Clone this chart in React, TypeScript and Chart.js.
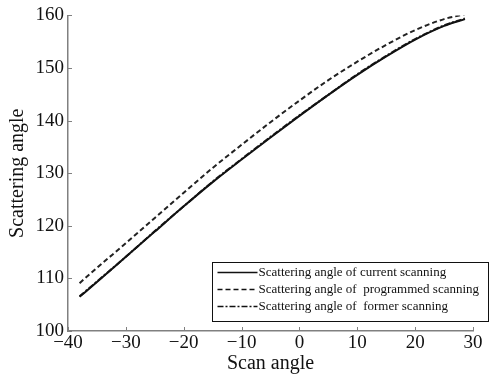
import React, { useEffect, useRef } from "react";
import { Chart, registerables } from "chart.js";

Chart.register(...registerables);

const scanAngles = [-38, -35, -30, -25, -20, -15, -10, -5, 0, 5, 10, 15, 20, 25, 28.6];
const currentScanning = [106.5, 109.3, 114.1, 118.9, 123.7, 128.3, 132.6, 136.8, 140.9, 144.9, 148.7, 152.2, 155.4, 158.0, 159.3];
const programmedScanning = [109.1, 112.0, 116.7, 121.5, 126.3, 131.0, 135.4, 139.7, 143.8, 147.7, 151.2, 154.4, 157.2, 159.3, 160.2];
const formerScanning = [106.6, 109.4, 114.1, 119.0, 123.7, 128.4, 132.7, 136.9, 141.0, 144.9, 148.8, 152.3, 155.5, 158.1, 159.4];
const xTickValues = [-40, -30, -20, -10, 0, 10, 20, 30];
const yTickValues = [100, 110, 120, 130, 140, 150, 160];

const seriesLabels = [
  "Scattering angle of current scanning",
  "Scattering angle of  programmed scanning",
  "Scattering angle of  former scanning",
];

const FONT = "'Liberation Serif', 'Times New Roman', serif";

const toPoints = (ys: number[]) => scanAngles.map((x, i) => ({ x, y: ys[i] }));

const innerTicksAndLegend = {
  id: "innerTicksAndLegend",
  afterDraw(chart: any) {
    const { ctx, chartArea, scales } = chart;
    ctx.save();
    ctx.strokeStyle = "#808080";
    ctx.lineWidth = 1;
    xTickValues.forEach((v) => {
      const px = Math.round(scales.x.getPixelForValue(v)) + 0.5;
      ctx.beginPath();
      ctx.moveTo(px, chartArea.bottom);
      ctx.lineTo(px, chartArea.bottom - 4);
      ctx.stroke();
    });
    yTickValues.forEach((v) => {
      const py = Math.round(scales.y.getPixelForValue(v)) + 0.5;
      ctx.beginPath();
      ctx.moveTo(chartArea.left, py);
      ctx.lineTo(chartArea.left + 4, py);
      ctx.stroke();
    });

    // legend box
    const bx = chartArea.left + 144.5;
    const by = chartArea.bottom - 68.5;
    const bw = 276;
    const bh = 59;
    ctx.fillStyle = "#ffffff";
    ctx.fillRect(bx, by, bw, bh);
    ctx.strokeStyle = "#111";
    ctx.lineWidth = 1;
    ctx.strokeRect(bx, by, bw, bh);
    ctx.font = `13px ${FONT}`;
    ctx.textBaseline = "middle";
    ctx.textAlign = "left";
    const datasets = chart.data.datasets;
    [0, 1, 2].forEach((i) => {
      const ds = datasets[i];
      const y = by + 10 + i * 17;
      ctx.strokeStyle = "#111";
      ctx.lineWidth = 1.6;
      ctx.setLineDash(ds.borderDash || []);
      ctx.beginPath();
      ctx.moveTo(bx + 5, y);
      ctx.lineTo(bx + 45, y);
      ctx.stroke();
      ctx.setLineDash([]);
      ctx.fillStyle = "#111";
      ctx.fillText(ds.label, bx + 46, y);
    });
    ctx.restore();
  },
};

const minusFmt = (v: any) => String(v).replace("-", "\u2212");

export default function App() {
  const canvasRef = useRef<HTMLCanvasElement | null>(null);

  useEffect(() => {
    document.body.style.margin = "0";
    const canvas = canvasRef.current;
    if (!canvas) return;
    const chart = new Chart(canvas, {
      type: "line",
      data: {
        datasets: [
          {
            label: seriesLabels[0],
            data: toPoints(currentScanning),
            borderColor: "#111",
            borderWidth: 2,
            pointRadius: 0,
            cubicInterpolationMode: "monotone",
            fill: false,
          },
          {
            label: seriesLabels[1],
            data: toPoints(programmedScanning),
            borderColor: "#222",
            borderWidth: 2,
            borderDash: [5, 3],
            pointRadius: 0,
            cubicInterpolationMode: "monotone",
            fill: false,
          },
          {
            label: seriesLabels[2],
            data: toPoints(formerScanning),
            borderColor: "#222",
            borderWidth: 2,
            borderDash: [6, 2, 2, 2],
            pointRadius: 0,
            cubicInterpolationMode: "monotone",
            fill: false,
          },
        ],
      },
      options: {
        animation: false,
        responsive: true,
        maintainAspectRatio: false,
        layout: { padding: { left: 0, right: 17, top: 15, bottom: 0 } },
        plugins: {
          legend: { display: false },
          tooltip: { enabled: false },
        },
        scales: {
          x: {
            type: "linear",
            min: -40,
            max: 30,
            afterFit: (s: any) => {
              s.height = 45;
            },
            afterBuildTicks: (s: any) => {
              s.ticks = xTickValues.map((v) => ({ value: v }));
            },
            grid: { display: false, drawTicks: false, tickLength: 0 },
            border: { display: true, color: "#808080", width: 1.5 },
            ticks: {
              color: "#111",
              font: { family: FONT, size: 19 },
              padding: 1,
              maxRotation: 0,
              callback: minusFmt,
            },
            title: {
              display: true,
              text: "Scan angle",
              color: "#111",
              font: { family: FONT, size: 20 },
              padding: { top: 0, bottom: 0 },
            },
          },
          y: {
            type: "linear",
            min: 100,
            max: 160,
            afterFit: (s: any) => {
              s.width = 68;
            },
            afterBuildTicks: (s: any) => {
              s.ticks = yTickValues.map((v) => ({ value: v }));
            },
            grid: { display: false, drawTicks: false, tickLength: 0 },
            border: { display: true, color: "#808080", width: 1.5 },
            ticks: {
              color: "#111",
              font: { family: FONT, size: 19 },
              padding: 4,
            },
            title: {
              display: true,
              text: "Scattering angle",
              color: "#111",
              font: { family: FONT, size: 20 },
              padding: { top: 6, bottom: 0 },
            },
          },
        },
      },
      plugins: [innerTicksAndLegend],
    });
    return () => chart.destroy();
  }, []);

  return (
    <div style={{ position: "absolute", left: 0, top: 0, width: 490, height: 376, background: "#fff" }}>
      <canvas ref={canvasRef} />
    </div>
  );
}
